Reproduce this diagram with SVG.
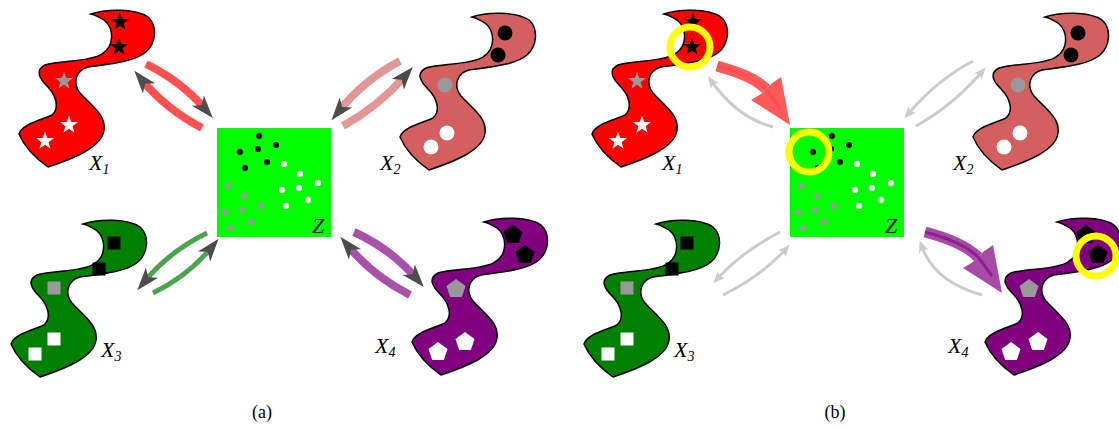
<svg xmlns="http://www.w3.org/2000/svg" xmlns:xlink="http://www.w3.org/1999/xlink" width="1119" height="430" viewBox="0 0 1119 430">
<style>
.blob{stroke:#000;stroke-width:1.5}
.lbl{font-family:"Liberation Serif",serif;font-style:italic;font-size:22px;fill:#000}
.sub{font-size:14px}
.cap{font-family:"Liberation Serif",serif;font-size:18px;fill:#000}
.bd{fill:none;stroke-linecap:butt}
.ga{fill:none;stroke:#cccccc;stroke-width:3;marker-end:url(#hg)}
.hp{fill:none;stroke:none;marker-end:url(#hd)}
.ring{fill:none;stroke:#ffff00;stroke-width:7}
.k{fill:#000}.g{fill:#999}.w{fill:#fff}
</style>
<defs>
<path id="blob" d="M91,14 C105,9 135,8 148,17 C157,25 157,42 146,52 C134,62 110,64 88,67 C76,70 72,83 80,93 C92,106 106,115 104,130 C102,147 75,158 48,167 C38,160 25,148 19,134 C22,124 42,120 52,115 C60,108 56,95 47,86 C39,78 35,70 45,65 C60,60 90,62 102,54 C115,46 114,28 104,20 C99,17 95,15 91,14 Z"/>
<polygon id="star" points="0,-9.5 2.23,-3.08 9.03,-2.94 3.61,1.18 5.59,7.69 0,3.8 -5.59,7.69 -3.61,1.18 -9.03,-2.94 -2.23,-3.08"/>
<polygon id="pent" points="0,-10 9.51,-3.09 5.88,8.09 -5.88,8.09 -9.51,-3.09"/>
<rect id="sq" x="-6.5" y="-6.5" width="13" height="13"/>
<marker id="hd" markerUnits="userSpaceOnUse" markerWidth="34" markerHeight="34" viewBox="-17 -17 34 34" refX="0" refY="0" orient="auto" overflow="visible"><path d="M12,0 L-11,-8 L-5,0 L-11,8 Z" fill="#4d4d4d"/></marker>
<marker id="hg" markerUnits="userSpaceOnUse" markerWidth="20" markerHeight="20" viewBox="-10 -10 20 20" refX="0" refY="0" orient="auto" overflow="visible"><path d="M7,0 L-5,-5 L-2,0 L-5,5 Z" fill="#cccccc"/></marker>
<g id="zdots">
<circle cx="259" cy="136" r="3"/><circle cx="240" cy="152" r="3"/><circle cx="258" cy="149" r="3"/><circle cx="276" cy="145" r="3"/><circle cx="267" cy="162" r="3"/><circle cx="245" cy="168" r="3"/>
<g fill="#fff"><circle cx="284" cy="164" r="3"/><circle cx="300" cy="174" r="3"/><circle cx="318" cy="183" r="3"/><circle cx="299" cy="188" r="3"/><circle cx="282" cy="190" r="3"/><circle cx="308" cy="200" r="3"/><circle cx="286" cy="206" r="3"/></g>
<g fill="#999"><circle cx="228" cy="186" r="3"/><circle cx="244" cy="196" r="3"/><circle cx="261" cy="206" r="3"/><circle cx="242" cy="210" r="3"/><circle cx="225" cy="212" r="3"/><circle cx="251" cy="222" r="3"/><circle cx="230" cy="228" r="3"/></g>
</g>
</defs>
<rect width="1119" height="430" fill="#fff"/>

<g id="connectors">
<g opacity="0.68">
<path class="bd" d="M146,64 Q181,81 205,109" stroke="#ff0000" stroke-width="8"/>
<path class="bd" d="M202,128 Q166,109 142,80" stroke="#ff0000" stroke-width="8"/>
</g>
<g opacity="0.65">
<path class="bd" d="M400,61 Q364,80 339,111" stroke="#d35f5f" stroke-width="8"/>
<path class="bd" d="M343,126 Q379,106 405,76" stroke="#d35f5f" stroke-width="8"/>
</g>
<g opacity="0.7">
<path class="bd" d="M207,233 Q170,251 145,281" stroke="#008000" stroke-width="5"/>
<path class="bd" d="M153,293 Q188,276 211,248" stroke="#008000" stroke-width="5"/>
</g>
<g opacity="0.68">
<path class="bd" d="M354,232 Q391,249 416,278" stroke="#800080" stroke-width="8"/>
<path class="bd" d="M410,295 Q373,276 348,246" stroke="#800080" stroke-width="8"/>
</g>
<path class="hp" d="M181,81 L205,109"/>
<path class="hp" d="M166,109 L142,80"/>
<path class="hp" d="M364,80 L339,111"/>
<path class="hp" d="M379,106 L405,76"/>
<path class="hp" d="M170,251 L145,281"/>
<path class="hp" d="M188,276 L211,248"/>
<path class="hp" d="M391,249 L416,278"/>
<path class="hp" d="M373,276 L348,246"/>

<path class="ga" d="M773,127 Q738,118 712,82"/>
<path class="ga" d="M973,61 Q937,80 909,113"/>
<path class="ga" d="M916,126 Q952,106 981,73"/>
<path class="ga" d="M780,232 Q743,251 718,278"/>
<path class="ga" d="M723,295 Q761,276 785,250"/>
<path class="ga" d="M982,295 Q935,282 922,247"/>

<path class="bd" d="M717,66 C738,72 755,78 766,89" stroke="#ff5a5a" stroke-width="11"/>
<polygon points="761,94 751,100 790,125 781,77 771,84" fill="#ff5a5a"/>
<path class="bd" d="M717,66 C738,72 755,78 766,89 L780,108" stroke="#ff2a2a" stroke-opacity="0.25" stroke-width="3"/>
<path class="bd" d="M925,232 C948,238 967,246 978,257" stroke="#a64ca6" stroke-width="11"/>
<polygon points="973,262 963,268 1002,293 993,245 983,252" fill="#a64ca6"/>
<path class="bd" d="M925,232 C948,238 967,246 978,257 L992,276" stroke="#800080" stroke-opacity="0.6" stroke-width="3"/>
</g>

<g id="a-X1">
<use xlink:href="#blob" href="#blob" class="blob" fill="#ff0000"/>
<use href="#star" xlink:href="#star" class="k" x="120" y="22"/>
<use href="#star" xlink:href="#star" class="k" x="119" y="47"/>
<use href="#star" xlink:href="#star" class="g" x="64" y="81"/>
<use href="#star" xlink:href="#star" class="w" x="69" y="125"/>
<use href="#star" xlink:href="#star" class="w" x="45" y="141"/>
<text class="lbl" x="89" y="170">X<tspan class="sub" dy="4">1</tspan></text>
</g>
<g id="a-X2">
<use href="#blob" xlink:href="#blob" class="blob" fill="#d35f5f" transform="translate(381,3)"/>
<circle cx="505" cy="33" r="7.5" class="k"/>
<circle cx="498" cy="55" r="7.5" class="k"/>
<circle cx="445" cy="85" r="7.5" class="g"/>
<circle cx="447" cy="133" r="7.5" class="w"/>
<circle cx="431" cy="147" r="7.5" class="w"/>
<text class="lbl" x="380" y="170">X<tspan class="sub" dy="4">2</tspan></text>
</g>
<g id="a-X3">
<use href="#blob" xlink:href="#blob" class="blob" fill="#008000" transform="translate(-8,210)"/>
<use href="#sq" xlink:href="#sq" class="k" x="114" y="243"/>
<use href="#sq" xlink:href="#sq" class="k" x="99" y="269"/>
<use href="#sq" xlink:href="#sq" class="g" x="54" y="288"/>
<use href="#sq" xlink:href="#sq" class="w" x="54" y="339"/>
<use href="#sq" xlink:href="#sq" class="w" x="35" y="354"/>
<text class="lbl" x="101" y="357">X<tspan class="sub" dy="4">3</tspan></text>
</g>
<g id="a-X4">
<use href="#blob" xlink:href="#blob" class="blob" fill="#800080" transform="translate(393,208)"/>
<use href="#pent" xlink:href="#pent" class="k" x="513" y="235"/>
<use href="#pent" xlink:href="#pent" class="k" x="525" y="255"/>
<use href="#pent" xlink:href="#pent" class="g" x="456" y="289"/>
<use href="#pent" xlink:href="#pent" class="w" x="465" y="342"/>
<use href="#pent" xlink:href="#pent" class="w" x="438" y="352"/>
<text class="lbl" x="375" y="353">X<tspan class="sub" dy="4">4</tspan></text>
</g>
<g id="a-Z">
<rect x="217" y="128" width="114" height="109" fill="#00ff00"/>
<use href="#zdots" xlink:href="#zdots"/>
<text class="lbl" x="312" y="233">Z</text>
</g>

<g id="b-X1">
<use xlink:href="#blob" href="#blob" class="blob" fill="#ff0000" transform="translate(573,0)"/>
<use href="#star" xlink:href="#star" class="k" x="693" y="22"/>
<use href="#star" xlink:href="#star" class="k" x="692" y="47"/>
<use href="#star" xlink:href="#star" class="g" x="637" y="81"/>
<use href="#star" xlink:href="#star" class="w" x="642" y="125"/>
<use href="#star" xlink:href="#star" class="w" x="618" y="141"/>
<circle class="ring" cx="690" cy="47" r="20"/>
<text class="lbl" x="662" y="170">X<tspan class="sub" dy="4">1</tspan></text>
</g>
<g id="b-X2">
<use href="#blob" xlink:href="#blob" class="blob" fill="#d35f5f" transform="translate(954,3)"/>
<circle cx="1078" cy="33" r="7.5" class="k"/>
<circle cx="1071" cy="55" r="7.5" class="k"/>
<circle cx="1018" cy="85" r="7.5" class="g"/>
<circle cx="1020" cy="133" r="7.5" class="w"/>
<circle cx="1004" cy="147" r="7.5" class="w"/>
<text class="lbl" x="953" y="170">X<tspan class="sub" dy="4">2</tspan></text>
</g>
<g id="b-X3">
<use href="#blob" xlink:href="#blob" class="blob" fill="#008000" transform="translate(565,210)"/>
<use href="#sq" xlink:href="#sq" class="k" x="687" y="243"/>
<use href="#sq" xlink:href="#sq" class="k" x="672" y="269"/>
<use href="#sq" xlink:href="#sq" class="g" x="627" y="288"/>
<use href="#sq" xlink:href="#sq" class="w" x="627" y="339"/>
<use href="#sq" xlink:href="#sq" class="w" x="608" y="354"/>
<text class="lbl" x="674" y="357">X<tspan class="sub" dy="4">3</tspan></text>
</g>
<g id="b-X4">
<use href="#blob" xlink:href="#blob" class="blob" fill="#800080" transform="translate(966,208)"/>
<use href="#pent" xlink:href="#pent" class="k" x="1086" y="235"/>
<use href="#pent" xlink:href="#pent" class="k" x="1098" y="255"/>
<use href="#pent" xlink:href="#pent" class="g" x="1029" y="289"/>
<use href="#pent" xlink:href="#pent" class="w" x="1038" y="342"/>
<use href="#pent" xlink:href="#pent" class="w" x="1011" y="352"/>
<circle class="ring" cx="1096" cy="256" r="20"/>
<text class="lbl" x="948" y="353">X<tspan class="sub" dy="4">4</tspan></text>
</g>
<g id="b-Z">
<rect x="790" y="128" width="114" height="109" fill="#00ff00"/>
<use href="#zdots" xlink:href="#zdots" transform="translate(573,0)"/>
<circle class="ring" cx="809" cy="152" r="20"/>
<text class="lbl" x="885" y="233">Z</text>
</g>

<text class="cap" x="262" y="418" text-anchor="middle">(a)</text>
<text class="cap" x="835" y="418" text-anchor="middle">(b)</text>
</svg>
